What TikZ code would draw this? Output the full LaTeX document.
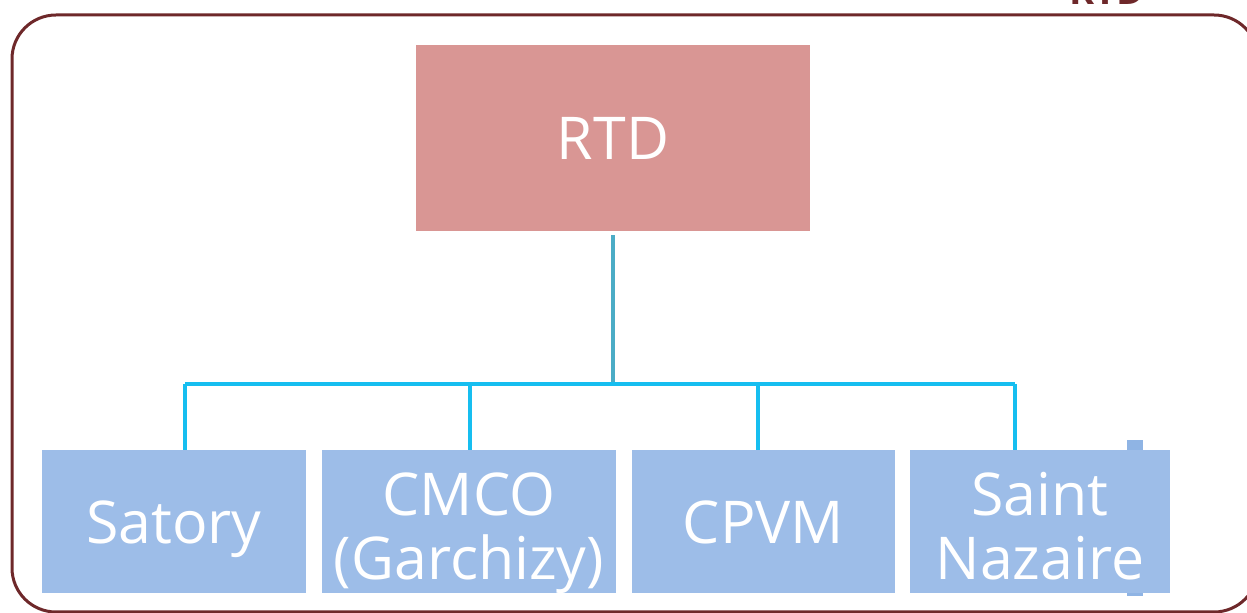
\documentclass[tikz,border=0pt]{standalone}
\usepackage{fontspec}
\setmainfont{Open Sans}
\usetikzlibrary{positioning,calc,backgrounds}
\definecolor{frame}{RGB}{110,40,42}
\definecolor{head}{RGB}{217,150,148}
\definecolor{site}{RGB}{157,189,232}
\definecolor{sitetab}{RGB}{143,180,228}
\definecolor{trunk}{RGB}{75,172,198}
\definecolor{bus}{RGB}{22,190,240}

\begin{document}
\begin{tikzpicture}[x=0.5pt,y=-0.5pt,
    headbox/.style={fill=head,text=white,minimum width=197pt,
      minimum height=93pt,inner sep=0pt,font=\fontsize{29.5}{32.5}\selectfont},
    sitebox/.style={fill=site,text=white,minimum height=71.5pt,inner sep=0pt,
      align=center,font=\fontsize{29.5}{32}\selectfont,
      text height=24pt,text depth=2pt},
    twoline/.style={text height=64pt,text depth=5.5pt},
    link/.style={draw=bus,line width=2pt}]
  \useasboundingbox (0,0) rectangle (1247,613);

  % outer frame and its title
  \draw[frame,line width=1.5pt,rounded corners=22pt] (12,15) rectangle (1258,612);
  \node[anchor=base,text=frame,font=\fontsize{19}{21}\selectfont\bfseries]
    (title) at (1107,5) {RTD};

  % top of the tree
  \node[headbox] (rtd) at (613,138) {RTD};

  % the four sites
  \fill[sitetab] (1127,440) rectangle (1143,596);
  \node[sitebox,minimum width=132pt] (satory) at (174,521.5) {Satory};
  \node[sitebox,twoline,minimum width=147pt] (cmco) at (469,521.5) {CMCO\\(Garchizy)};
  \node[sitebox,minimum width=131.5pt] (cpvm) at (763.5,521.5) {CPVM};
  \node[sitebox,twoline,minimum width=130pt] (nazaire) at (1040,521.5) {Saint\\Nazaire};

  % connectors
  \coordinate (fork) at (613,384);
  \coordinate (dropA) at (185,384);
  \coordinate (dropB) at (470,384);
  \coordinate (dropC) at (758,384);
  \coordinate (dropD) at (1015,384);
  \draw[trunk,line width=2pt,shorten <=2pt] (rtd.south) -- (fork);
  \draw[link] (dropA) -- (dropD);
  \draw[link] (dropA) -- (dropA |- satory.north);
  \draw[link] (dropB) -- (dropB |- cmco.north);
  \draw[link] (dropC) -- (dropC |- cpvm.north);
  \draw[link] (dropD) -- (dropD |- nazaire.north);
\end{tikzpicture}
\end{document}
